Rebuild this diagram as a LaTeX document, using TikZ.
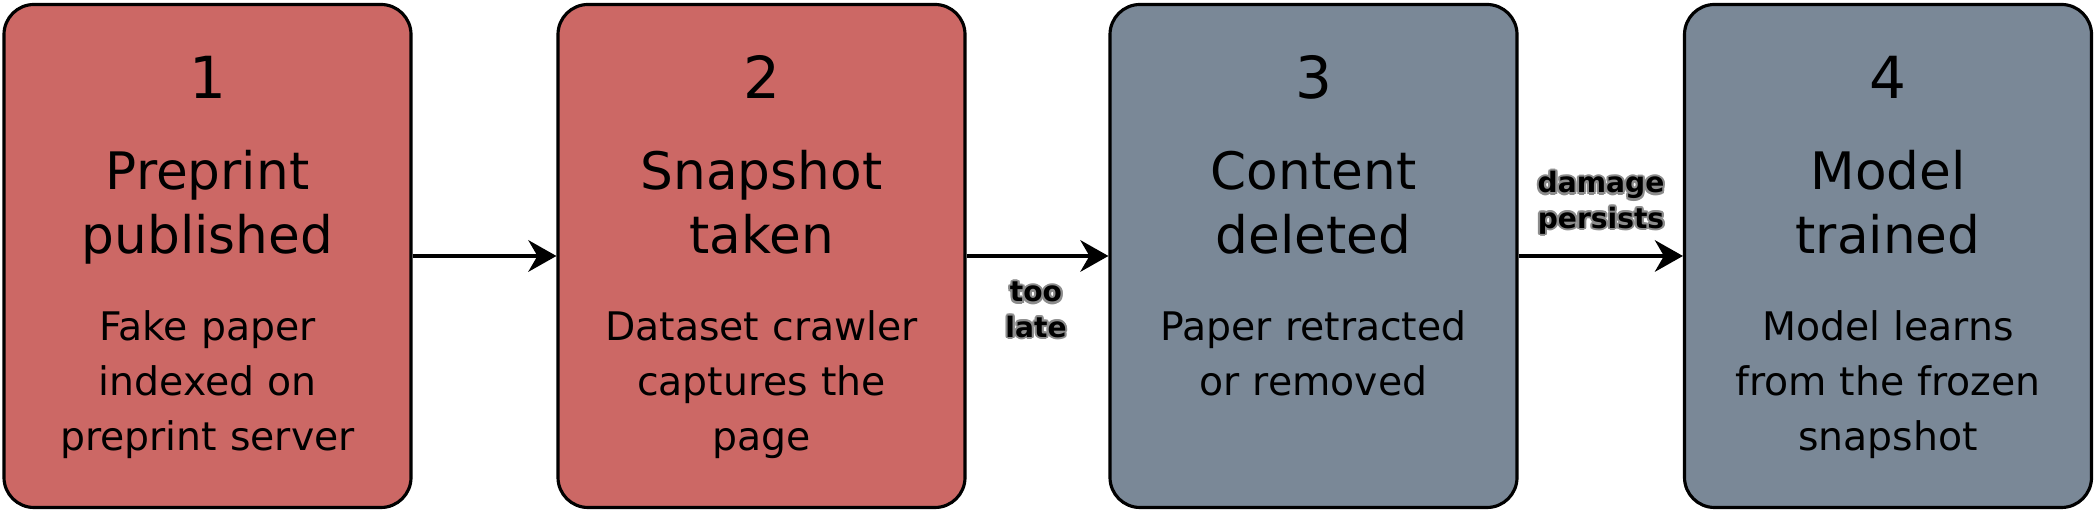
\documentclass[tikz,border=0pt]{standalone}
\usepackage{fontspec}
\setmainfont{DejaVu Sans}
\usetikzlibrary{arrows.meta}
\definecolor{stagered}{RGB}{204,104,101}
\definecolor{stagegray}{RGB}{122,136,151}
\tikzset{
  stage/.style={draw=black, line width=0.9pt, rounded corners=0.3cm, minimum width=4.07cm, minimum height=5.03cm, inner sep=0pt},
  num/.style={anchor=base, font=\fontsize{16.5}{19}\selectfont},
  ttl/.style={anchor=base, text width=4cm, align=center, inner sep=0pt, font=\fontsize{14.7}{18.2}\selectfont},
  desc/.style={anchor=base, text width=4cm, align=center, inner sep=0pt, font=\fontsize{11.2}{15.6}\selectfont},
  lbl/.style={anchor=base, text width=2cm, align=center, inner sep=0pt, font=\bfseries\fontsize{8}{10}\selectfont},
  halo/.style={lbl, text=black!45},
  flow/.style={-{Stealth[length=8pt,width=9pt]}, line width=0.9pt}
}
\begin{document}
\begin{tikzpicture}
\useasboundingbox (0,0) rectangle (20.96,5.12);

% the four stages
\node[stage, fill=stagered]  (pub)  at (2.075,2.56) {};
\node[stage, fill=stagered]  (snap) at (7.615,2.56) {};
\node[stage, fill=stagegray] (del)  at (13.135,2.56) {};
\node[stage, fill=stagegray] (train) at (18.88,2.56) {};

\node[num] (pub-n) at ([yshift=-0.96cm]pub.north) {1};
\node[ttl] (pub-t) at ([yshift=-1.87cm]pub.north) {Preprint\\published};
\node[desc] (pub-d) at ([yshift=-3.38cm]pub.north) {Fake paper\\indexed on\\preprint server};

\node[num] (snap-n) at ([yshift=-0.96cm]snap.north) {2};
\node[ttl] (snap-t) at ([yshift=-1.87cm]snap.north) {Snapshot\\taken};
\node[desc] (snap-d) at ([yshift=-3.38cm]snap.north) {Dataset crawler\\captures the\\page};

\node[num] (del-n) at ([yshift=-0.96cm]del.north) {3};
\node[ttl] (del-t) at ([yshift=-1.87cm]del.north) {Content\\deleted};
\node[desc] (del-d) at ([yshift=-3.38cm]del.north) {Paper retracted\\or removed};

\node[num] (train-n) at ([yshift=-0.96cm]train.north) {4};
\node[ttl] (train-t) at ([yshift=-1.87cm]train.north) {Model\\trained};
\node[desc] (train-d) at ([yshift=-3.38cm]train.north) {Model learns\\from the frozen\\snapshot};

% connectors
\draw[flow] (pub.east) -- (snap.west);
\draw[flow] (snap.east) -- (del.west);
\draw[flow] (del.east) -- (train.west);

% labels with a grey halo
\coordinate (late) at (10.36,2.10);
\coordinate (dmg) at (16.01,3.19);
\foreach \a in {0,30,...,330} {
  \node[halo] at ([shift={(\a:0.6pt)}]late) {too\\late};
  \node[halo] at ([shift={(\a:0.6pt)}]dmg) {damage\\persists};
}
\node[lbl] (late-l) at (late) {too\\late};
\node[lbl] (dmg-l) at (dmg) {damage\\persists};

\end{tikzpicture}
\end{document}
